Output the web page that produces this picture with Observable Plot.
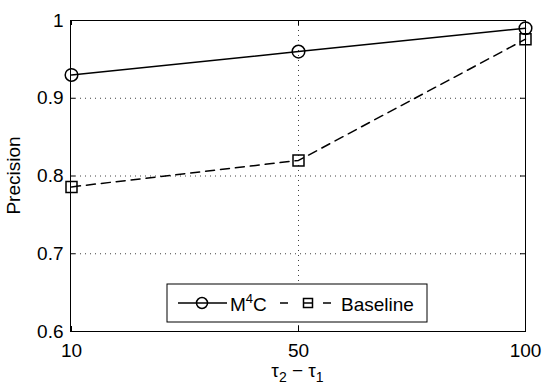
<!DOCTYPE html>
<html><head><meta charset="utf-8">
<script src="https://cdn.jsdelivr.net/npm/d3@7"></script>
<script src="https://cdn.jsdelivr.net/npm/@observablehq/plot@0.6"></script>
<style>body{margin:0;background:#fff} #chart{width:548px;height:392px}</style>
</head><body><div id="chart"></div>
<script>
const taus = [10, 50, 100];
const m4cPrecision = [0.93, 0.96, 0.99];
const baselinePrecision = [0.786, 0.82, 0.976];
const yTicks = [0.6, 0.7, 0.8, 0.9, 1];
const yGrid = [0.7, 0.8, 0.9];
const xGrid = [50];
const xTickLabels = ["10", "50", "100"];
const yTickLabels = ["0.6", "0.7", "0.8", "0.9", "1"];

const m4c = taus.map((t, i) => ({tau: t, p: m4cPrecision[i]}));
const base = taus.map((t, i) => ({tau: t, p: baselinePrecision[i]}));

const W = 548, H = 392, mL = 70, mR = 23, mT = 20, mB = 61;
const plotW = W - mL - mR, plotH = H - mT - mB;
const tick = 5;
const FONT = "'Liberation Sans', Arial, Helvetica, sans-serif";

const chart = Plot.plot({
  width: W, height: H,
  marginLeft: mL, marginRight: mR, marginTop: mT, marginBottom: mB,
  style: {fontFamily: FONT, fontSize: "19px", color: "black", background: "white"},
  x: {type: "point", domain: taus, padding: 0},
  y: {domain: [0.6, 1]},
  marks: [
    Plot.gridY(yGrid, {stroke: "black", strokeOpacity: 0.75, strokeDasharray: "1,4"}),
    Plot.gridX(xGrid, {stroke: "black", strokeOpacity: 0.75, strokeDasharray: "1,4"}),
    Plot.tickY(yTicks, {y: d => d, insetRight: plotW - tick, stroke: "black"}),
    Plot.tickY(yTicks, {y: d => d, insetLeft: plotW - tick, stroke: "black"}),
    Plot.tickX(taus, {x: d => d, insetTop: plotH - tick, stroke: "black"}),
    Plot.tickX(taus, {x: d => d, insetBottom: plotH - tick, stroke: "black"}),
    Plot.axisY(yTicks, {tickSize: 0, tickPadding: 7, tickFormat: (d) => yTickLabels[yTicks.indexOf(d)], label: null}),
    Plot.axisX(taus, {tickSize: 0, tickPadding: 12, tickFormat: (d) => xTickLabels[taus.indexOf(d)], label: null}),
    Plot.frame({stroke: "black"}),
    Plot.line(base, {x: "tau", y: "p", stroke: "black", strokeWidth: 1.5, strokeDasharray: "9,6"}),
    Plot.dot(base, {x: "tau", y: "p", symbol: "square", r: 6.2, stroke: "black", strokeWidth: 1.5, fill: "none"}),
    Plot.line(m4c, {x: "tau", y: "p", stroke: "black", strokeWidth: 1.5}),
    Plot.dot(m4c, {x: "tau", y: "p", symbol: "circle", r: 6.3, stroke: "black", strokeWidth: 1.5, fill: "none"})
  ]
});
document.getElementById("chart").appendChild(chart);

const svg = d3.select(chart);
// x axis label
const xl = svg.append("text").attr("x", mL + plotW / 2).attr("y", 377)
  .attr("text-anchor", "middle").attr("fill", "black")
  .style("font-family", FONT).style("font-size", "19px");
xl.append("tspan").text("τ");
xl.append("tspan").attr("dy", 5).style("font-size", "14px").text("2");
xl.append("tspan").attr("dy", -5).text(" − τ");
xl.append("tspan").attr("dy", 5).style("font-size", "14px").text("1");

// y axis label
svg.append("text").attr("transform", `translate(20,${mT + plotH / 2}) rotate(-90)`)
  .attr("text-anchor", "middle").attr("fill", "black")
  .style("font-family", FONT).style("font-size", "19px").text("Precision");

// legend
const lg = svg.append("g").style("font-family", FONT).style("font-size", "19px").attr("text-anchor", "start");
lg.append("rect").attr("x", 167).attr("y", 284).attr("width", 260).attr("height", 38)
  .attr("fill", "white").attr("stroke", "black");
const ly = 303;
lg.append("line").attr("x1", 178).attr("x2", 227).attr("y1", ly).attr("y2", ly).attr("stroke", "black").attr("stroke-width", 1.5);
lg.append("circle").attr("cx", 202).attr("cy", ly).attr("r", 5.5).attr("fill", "none").attr("stroke", "black").attr("stroke-width", 1.5);
const t1 = lg.append("text").attr("x", 230).attr("y", 311).attr("fill", "black").attr("text-anchor", "start");
t1.append("tspan").text("M");
t1.append("tspan").attr("dy", -8).style("font-size", "13px").text("4");
t1.append("tspan").attr("dy", 8).text("C");
lg.append("line").attr("x1", 280).attr("x2", 288).attr("y1", ly).attr("y2", ly).attr("stroke", "black").attr("stroke-width", 1.5);
lg.append("line").attr("x1", 303.5).attr("x2", 312.5).attr("y1", ly).attr("y2", ly).attr("stroke", "black").attr("stroke-width", 1.5);
lg.append("rect").attr("x", 303.5).attr("y", ly - 4.5).attr("width", 9).attr("height", 9).attr("fill", "none").attr("stroke", "black").attr("stroke-width", 1.5);
lg.append("line").attr("x1", 323).attr("x2", 331).attr("y1", ly).attr("y2", ly).attr("stroke", "black").attr("stroke-width", 1.5);
lg.append("text").attr("x", 341).attr("y", 311).attr("fill", "black").attr("text-anchor", "start").text("Baseline");
</script>
</body></html>
